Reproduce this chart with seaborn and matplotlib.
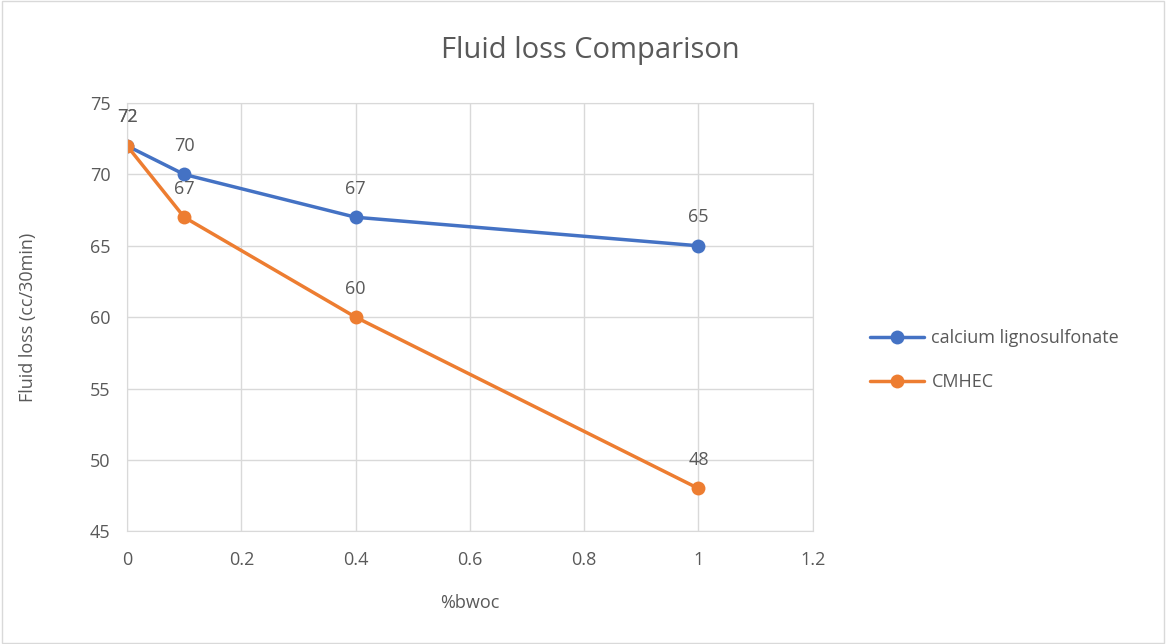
import matplotlib
matplotlib.use("Agg")
import matplotlib.pyplot as plt
import seaborn as sns
import pandas as pd

x_vals = [0, 0.1, 0.4, 1]
calcium = [72, 70, 67, 65]
cmhec = [72, 67, 60, 48]
series_names = ["calcium lignosulfonate", "CMHEC"]
colors = ["#4472C4", "#ED7D31"]

df = pd.DataFrame({
    "x": x_vals * 2,
    "y": calcium + cmhec,
    "series": [series_names[0]] * len(x_vals) + [series_names[1]] * len(x_vals),
})

sns.set_style("white")
plt.rcParams["font.family"] = ["Open Sans", "DejaVu Sans"]

fig = plt.figure(figsize=(11.66, 6.44), dpi=100)
ax = fig.add_axes([0.109, 0.175, 0.588, 0.665])

sns.lineplot(data=df, x="x", y="y", hue="series", palette=colors, marker="o",
             markersize=10, markeredgewidth=0, linewidth=2.5, ax=ax, sort=False)

for vals in (calcium, cmhec):
    for xv, yv in zip(x_vals, vals):
        ax.annotate(str(yv), (xv, yv), xytext=(0, 14), textcoords="offset points",
                    ha="center", va="bottom", fontsize=13, color="#595959")

ax.set_xlim(0, 1.2)
ax.set_ylim(45, 75)
ax.set_xticks([0, 0.2, 0.4, 0.6, 0.8, 1, 1.2])
ax.set_xticklabels(["0", "0.2", "0.4", "0.6", "0.8", "1", "1.2"])
ax.set_yticks(range(45, 76, 5))
ax.grid(True, color="#d9d9d9", linewidth=1)
for s in ax.spines.values():
    s.set_color("#d9d9d9")
ax.tick_params(axis="both", colors="#595959", labelsize=13, length=0)
ax.tick_params(axis="x", pad=14)
ax.tick_params(axis="y", pad=12)
ax.set_xlabel("%bwoc", fontsize=13, color="#595959", labelpad=18)
ax.set_ylabel("Fluid loss (cc/30min)", fontsize=13, color="#595959", labelpad=38)
fig.suptitle("Fluid loss Comparison", x=0.506, y=0.922, va="center",
             fontsize=21, color="#595959")

leg = ax.legend(loc="center left", bbox_to_anchor=(1.06, 0.40), frameon=False,
                fontsize=13, labelspacing=1.45, handlelength=3.0, handletextpad=0.4)
for t in leg.get_texts():
    t.set_color("#595959")

fig.patches.append(plt.Rectangle((0.002, 0.002), 0.996, 0.996, transform=fig.transFigure,
                                 fill=False, edgecolor="#d9d9d9", linewidth=1))

fig.savefig("out.png", dpi=100)
